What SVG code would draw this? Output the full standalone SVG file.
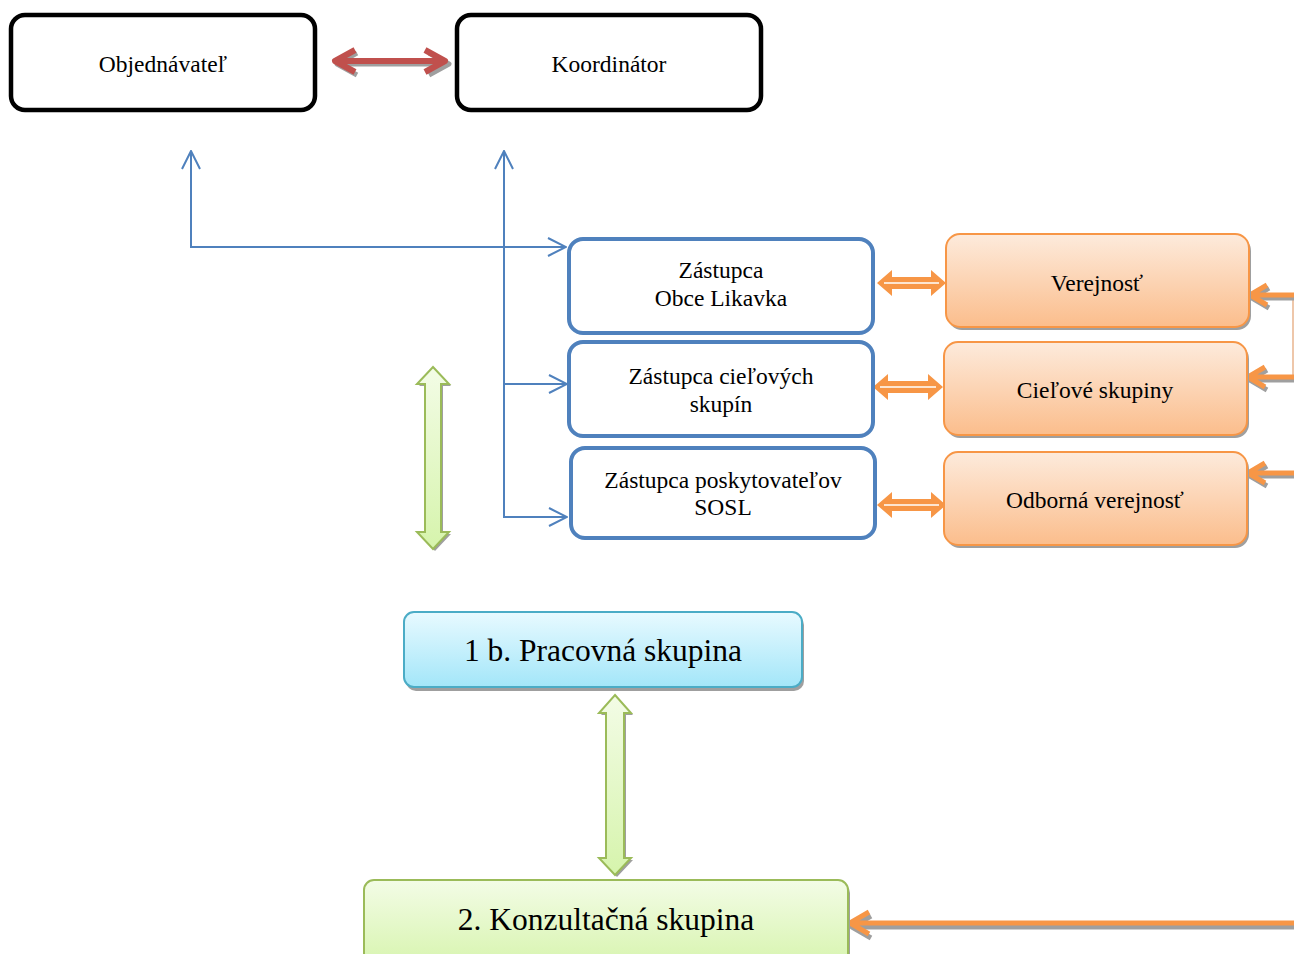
<svg xmlns="http://www.w3.org/2000/svg" width="1294" height="954" viewBox="0 0 1294 954">
<defs>
<linearGradient id="gOr" x1="0" y1="0" x2="0" y2="1"><stop offset="0" stop-color="#FDEBDC"/><stop offset="1" stop-color="#FBBD8C"/></linearGradient>
<linearGradient id="gCy" x1="0" y1="0" x2="0" y2="1"><stop offset="0" stop-color="#E8FAFF"/><stop offset="1" stop-color="#A3E6F9"/></linearGradient>
<linearGradient id="gGr" x1="0" y1="0" x2="0" y2="1"><stop offset="0" stop-color="#F3FCE6"/><stop offset="1" stop-color="#D6F4AC"/></linearGradient>
<marker id="openHead" viewBox="0 0 20 20" refX="19" refY="10" markerWidth="20" markerHeight="20" markerUnits="userSpaceOnUse" orient="auto">
<polyline points="1,1 19,10 1,19" fill="none" stroke="#4F81BD" stroke-width="2"/>
</marker>
</defs>
<style>
text{font-family:"Liberation Serif","Times New Roman",serif;fill:#000;text-anchor:middle}
.t{font-size:23.5px}
.big{font-size:31.5px}
.blk{fill:#fff;stroke:#000;stroke-width:4.5}
.blu{fill:#fff;stroke:#4F81BD;stroke-width:4}
.org{fill:url(#gOr);stroke:#F79646;stroke-width:2}
.shd{fill:#9F9F9F}
.bl{fill:none;stroke:#4F81BD;stroke-width:2}
.oa{fill:#F79646}
.wl{stroke:#fff;stroke-width:1.5}
.ga{fill:url(#gGr);stroke:#9BBB59;stroke-width:2}
.sh{fill:none;stroke:#9F9F9F;stroke-width:5;stroke-linejoin:round}
.oc{fill:none;stroke:#F79646;stroke-width:5;stroke-linejoin:round}
</style>

<g id="connectors">
  <!-- red double arrow -->
  <g>
    <path class="sh" d="M337,64 L449,64 M357,53 L337,64 L357,75 M429,53 L449,64 L429,75"/>
    <path d="M335,61 L445,61 M355,50 L335,61 L355,72 M425,50 L445,61 L425,72" fill="none" stroke="#C0504D" stroke-width="6" stroke-linejoin="round"/>
  </g>
  <!-- blue lines -->
  <polyline class="bl" points="191,152 191,247 566,247" marker-end="url(#openHead)"/>
  <line class="bl" x1="191" y1="200" x2="191" y2="151" marker-end="url(#openHead)"/>
  <polyline class="bl" points="504,517 504,151" marker-end="url(#openHead)"/>
  <line class="bl" x1="504" y1="384" x2="567" y2="384" marker-end="url(#openHead)"/>
  <line class="bl" x1="503" y1="517" x2="567" y2="517" marker-end="url(#openHead)"/>
  <!-- orange double arrows between boxes -->
  <path class="oa" d="M877,283 L892,270 L892,277 L931,277 L931,270 L946,283 L931,296 L931,289 L892,289 L892,296 Z"/>
  <line class="wl" x1="884" y1="283" x2="939" y2="283"/>
  <path class="oa" d="M873,387 L888,374 L888,381 L928,381 L928,374 L943,387 L928,400 L928,393 L888,393 L888,400 Z"/>
  <line class="wl" x1="880" y1="387" x2="936" y2="387"/>
  <path class="oa" d="M877,505 L892,492 L892,499 L931,499 L931,492 L946,505 L931,518 L931,511 L892,511 L892,518 Z"/>
  <line class="wl" x1="884" y1="505" x2="939" y2="505"/>
  <!-- right side orange arrows -->
  <line x1="1293" y1="295" x2="1293" y2="378" stroke="#E9B48E" stroke-width="1.5"/>
  <path class="sh" d="M1253,298 L1294,298 M1269,288 L1252,298 L1269,308"/>
  <path class="oc" d="M1251,295 L1294,295 M1267,285 L1250,295 L1267,305"/>
  <path class="sh" d="M1251,380 L1294,380 M1267,370 L1250,380 L1267,390"/>
  <path class="oc" d="M1249,377 L1294,377 M1265,367 L1248,377 L1265,387"/>
  <path class="sh" d="M1251,476 L1294,476 M1267,466 L1250,476 L1267,486"/>
  <path class="oc" d="M1249,473 L1294,473 M1265,463 L1248,473 L1265,483"/>
  <!-- bottom orange arrow -->
  <path class="sh" d="M853,927 L1294,927 M871,916 L852,927 L871,938"/>
  <path class="oc" d="M851,923 L1294,923 M869,912 L850,923 L869,934"/>
  <!-- green double arrows -->
  <path class="shd" d="M435,370 L451,386 L443,386 L443,534 L451,534 L435,551 L419,534 L427,534 L427,386 L419,386 Z"/>
  <path class="ga" d="M433,367 L449,384 L441,384 L441,532 L449,532 L433,549 L417,532 L425,532 L425,384 L417,384 Z"/>
  <path class="shd" d="M617,698 L633,715 L626,715 L626,860 L633,860 L617,877 L601,860 L608,860 L608,715 L601,715 Z"/>
  <path class="ga" d="M615,695 L631,713 L624,713 L624,858 L631,858 L615,875 L599,858 L606,858 L606,713 L599,713 Z"/>
</g>

<g id="objednavatel">
  <rect class="blk" x="11" y="15" width="304" height="95" rx="14"/>
  <text class="t" x="163" y="72">Objednávateľ</text>
</g>
<g id="koordinator">
  <rect class="blk" x="457" y="15" width="304" height="95" rx="14"/>
  <text class="t" x="609" y="72">Koordinátor</text>
</g>

<g id="zastupca-obce">
  <rect class="blu" x="569" y="239" width="304" height="94" rx="14"/>
  <text class="t" x="721" y="278">Zástupca</text>
  <text class="t" x="721" y="306">Obce Likavka</text>
</g>
<g id="zastupca-cielovych">
  <rect class="blu" x="569" y="342" width="304" height="94" rx="14"/>
  <text class="t" x="721" y="384">Zástupca cieľových</text>
  <text class="t" x="721" y="412">skupín</text>
</g>
<g id="zastupca-poskytovatelov">
  <rect class="blu" x="571" y="448" width="304" height="90" rx="14"/>
  <text class="t" x="723" y="488">Zástupca poskytovateľov</text>
  <text class="t" x="723" y="515">SOSL</text>
</g>

<g id="verejnost">
  <rect class="shd" x="948" y="237" width="303" height="93" rx="14"/>
  <rect class="org" x="946" y="234" width="303" height="93" rx="14"/>
  <text class="t" x="1097" y="291">Verejnosť</text>
</g>
<g id="cielove-skupiny">
  <rect class="shd" x="946" y="345" width="303" height="93" rx="14"/>
  <rect class="org" x="944" y="342" width="303" height="93" rx="14"/>
  <text class="t" x="1095" y="398">Cieľové skupiny</text>
</g>
<g id="odborna-verejnost">
  <rect class="shd" x="946" y="455" width="303" height="93" rx="14"/>
  <rect class="org" x="944" y="452" width="303" height="93" rx="14"/>
  <text class="t" x="1095" y="508">Odborná verejnosť</text>
</g>

<g id="pracovna-skupina">
  <rect class="shd" x="406" y="615" width="398" height="76" rx="10"/>
  <rect x="404" y="612" width="398" height="75" rx="10" fill="url(#gCy)" stroke="#4BACC6" stroke-width="2"/>
  <text class="big" x="603" y="661">1 b. Pracovná skupina</text>
</g>
<g id="konzultacna-skupina">
  <rect class="shd" x="366" y="883" width="484" height="90" rx="10"/>
  <rect x="364" y="880" width="484" height="90" rx="10" fill="url(#gGr)" stroke="#9BBB59" stroke-width="2"/>
  <text class="big" x="606" y="930">2. Konzultačná skupina</text>
</g>
</svg>
